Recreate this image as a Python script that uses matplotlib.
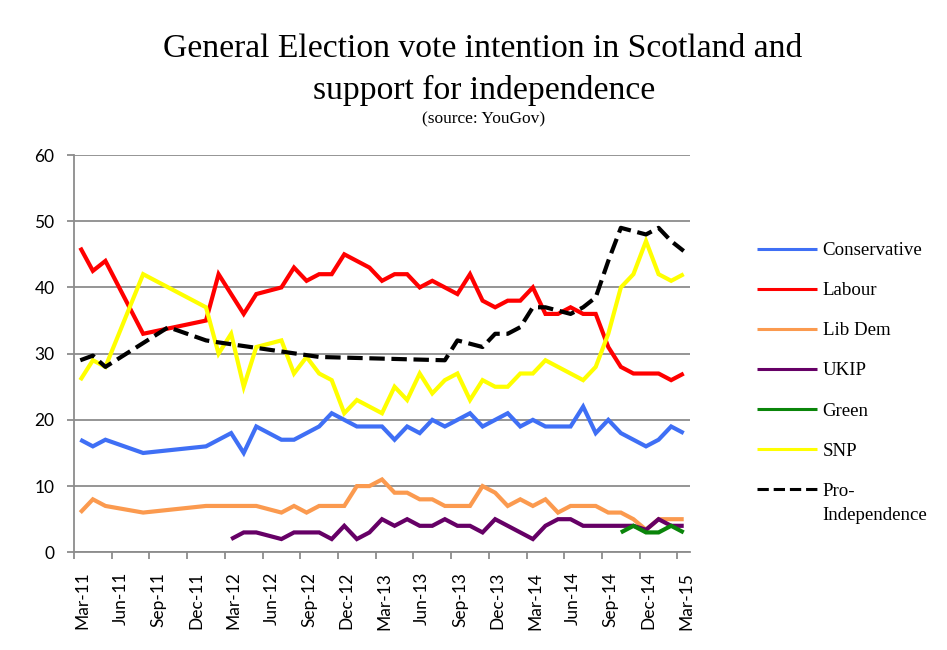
import matplotlib
matplotlib.use("Agg")
import matplotlib.pyplot as plt
import numpy as np
import pandas as pd

# Poll months (monthly from mid-2012, sparse before that)
poll_months = (["2011-03", "2011-04", "2011-05", "2011-08", "2011-10",
                "2012-01", "2012-02", "2012-03", "2012-04", "2012-05"]
               + [str(p) for p in pd.period_range("2012-07", "2015-03", freq="M")])

N = None
conservative = [17, 16, 17, 15, N, 16, 17, 18, 15, 19,
                17, 17, 18, 19, 21, 20, 19, 19, 19, 17, 19, 18, 20, 19, 20, 21,
                19, 20, 21, 19, 20, 19, 19, 19, 22, 18, 20, 18, 17, 16, 17, 19, 18]
labour = [46, 42.5, 44, 33, N, 35, 42, 39, 36, 39,
          40, 43, 41, 42, 42, 45, 44, 43, 41, 42, 42, 40, 41, 40, 39, 42,
          38, 37, 38, 38, 40, 36, 36, 37, 36, 36, 31, 28, 27, 27, 27, 26, 27]
lib_dem = [6, 8, 7, 6, N, 7, 7, 7, 7, 7,
           6, 7, 6, 7, 7, 7, 10, 10, 11, 9, 9, 8, 8, 7, 7, 7,
           10, 9, 7, 8, 7, 8, 6, 7, 7, 7, 6, 6, 5, 3.4, 5, 5, 5]
ukip = [N, N, N, N, N, N, N, 2, 3, 3,
        2, 3, 3, 3, 2, 4, 2, 3, 5, 4, 5, 4, 4, 5, 4, 4,
        3, 5, 4, 3, 2, 4, 5, 5, 4, 4, 4, 4, 4, 3.4, 5, 4, 4]
green = [N, N, N, N, N, N, N, N, N, N,
         N, N, N, N, N, N, N, N, N, N, N, N, N, N, N, N,
         N, N, N, N, N, N, N, N, N, N, N, 3, 4, 3, 3, 4, 3]
snp = [26, 29, 28, 42, N, 37, 30, 33, 25, 31,
       32, 27, 29.5, 27, 26, 21, 23, 22, 21, 25, 23, 27, 24, 26, 27, 23,
       26, 25, 25, 27, 27, 29, 28, 27, 26, 28, 33, 40, 42, 47, 42, 41, 42]
pro_independence = [29, 29.7, 28, N, 34, 32, 31.7, N, N, N,
                    N, N, N, 29.5, N, N, N, N, N, N, N, N, N, 29, 32, N,
                    31, 33, 33, 34, 37, 37, 36.5, 36, 37, 38.5, 44, 49, 48.5, 48, 49, 47, 45.5]

tick_labels = ["Mar-11", "Jun-11", "Sep-11", "Dec-11", "Mar-12", "Jun-12", "Sep-12",
               "Dec-12", "Mar-13", "Jun-13", "Sep-13", "Dec-13", "Mar-14", "Jun-14",
               "Sep-14", "Dec-14", "Mar-15"]

series = [
    ("Conservative", conservative, "#3f6ff5", "-"),
    ("Labour", labour, "#ff0000", "-"),
    ("Lib Dem", lib_dem, "#fb9a4f", "-"),
    ("UKIP", ukip, "#660066", "-"),
    ("Green", green, "#0a850a", "-"),
    ("SNP", snp, "#ffff00", "-"),
    ("Pro-", pro_independence, "#000000", "--"),
]

start = pd.Period("2011-03", freq="M")
x_all = np.array([(pd.Period(m, freq="M") - start).n + 0.5 for m in poll_months])

serif = ["Liberation Serif", "DejaVu Serif"]
sans = ["Lato", "DejaVu Sans"]
grey = "#8c8c8c"

fig = plt.figure(figsize=(9.47, 6.5), dpi=100)
W, H = 947, 650
ax = fig.add_axes([74 / W, 1 - 552.3 / H, (690 - 74) / W, (552.3 - 155) / H])

for name, vals, color, ls in series:
    v = np.array([np.nan if a is None else a for a in vals], dtype=float)
    ok = ~np.isnan(v)
    ax.plot(x_all[ok], v[ok], color=color, lw=3.0, ls=ls, label=name,
            solid_joinstyle="miter", solid_capstyle="butt", dash_capstyle="butt")

ax.set_xlim(0, 49)
ax.set_ylim(0, 60)
ax.set_yticks(range(0, 61, 10))
ax.yaxis.grid(True, color=grey, lw=1.3)
ax.set_axisbelow(True)
for s in ("top", "right"):
    ax.spines[s].set_visible(False)
for s in ("left", "bottom"):
    ax.spines[s].set_color(grey)
    ax.spines[s].set_linewidth(1.3)

major = np.arange(0, 49, 3)
ax.set_xticks(major)
ax.set_xticklabels([])
ax.set_xticks(major + 0.7, minor=True)
ax.set_xticklabels(tick_labels, minor=True, rotation=90, fontsize=12.5,
                   family=sans, va="top", ha="center")
ax.tick_params(axis="x", which="major", length=5, width=1.3, color=grey)
ax.tick_params(axis="x", which="minor", length=0, pad=14)
ax.tick_params(axis="y", length=5, width=1.3, color=grey, pad=9, labelsize=12.5)
for t in ax.get_yticklabels():
    t.set_family(sans)

fig.text(0.51, 1 - 49 / H, "General Election vote intention in Scotland and",
         ha="center", va="center", fontsize=24.2, family=serif)
fig.text(0.511, 1 - 90 / H, "support for independence",
         ha="center", va="center", fontsize=24.2, family=serif)
fig.text(0.511, 1 - 119 / H, "(source: YouGov)",
         ha="center", va="center", fontsize=12.5, family=serif)

leg_size = 13.6
leg = ax.legend(loc="upper left", bbox_to_anchor=(740 / W, 1 - 225 / H),
                bbox_transform=fig.transFigure, frameon=False,
                prop={"family": serif, "size": leg_size}, handlelength=3.15,
                handletextpad=0.32, labelspacing=1.21)
for line in leg.get_lines():
    line.set_linewidth(2.2)

# second line of the last legend label, set under "Pro-"
fig.canvas.draw()
last = leg.get_texts()[-1].get_window_extent()
fig.text(last.x0 / W, (last.y0 + last.y1) / 2 / H - 24 / H, "Independence",
         ha="left", va="center", fontsize=leg_size, family=serif)

fig.savefig("out.png", dpi=100)
